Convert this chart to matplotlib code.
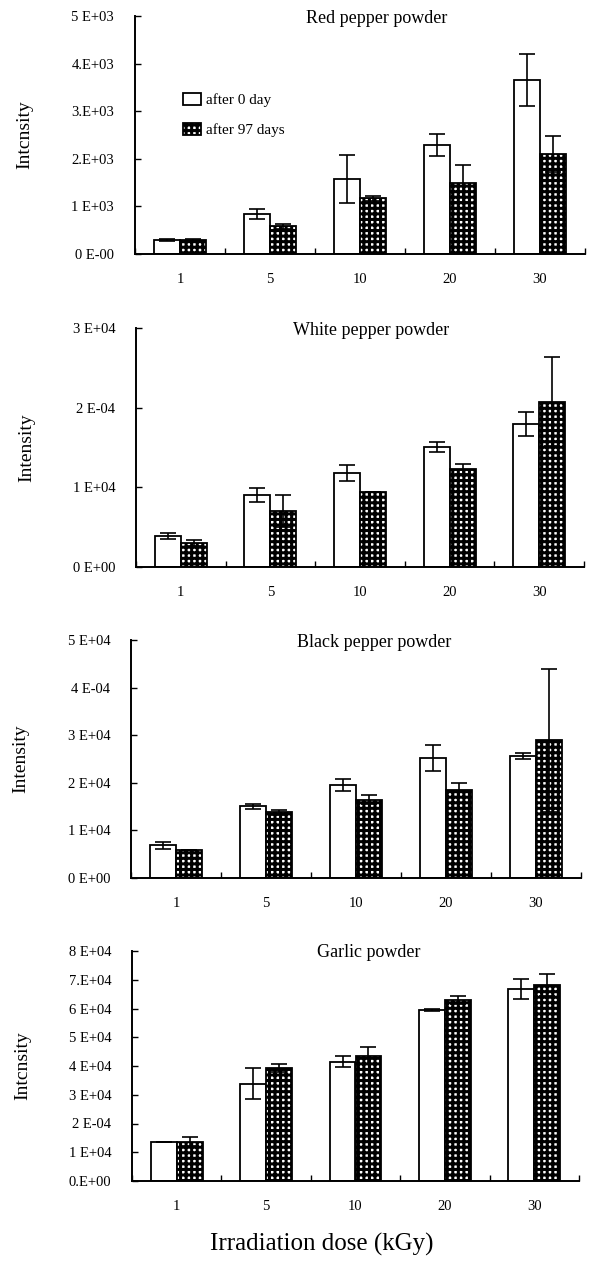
import matplotlib
matplotlib.use("Agg")
import matplotlib.pyplot as plt
import numpy as np
from matplotlib.patches import Patch

plt.rcParams['font.family'] = ['Liberation Serif', 'DejaVu Serif']
plt.rcParams['hatch.linewidth'] = 2.2

doses = ['1', '5', '10', '20', '30']
series_labels = ['after 0 day', 'after 97 days']

red_day0 = [290, 840, 1580, 2290, 3660]
red_day0_err = [20, 100, 500, 230, 550]
red_day97 = [300, 580, 1170, 1490, 2100]
red_day97_err = [20, 50, 55, 390, 380]

white_day0 = [3860, 9000, 11750, 15100, 17950]
white_day0_err = [400, 900, 1000, 630, 1500]
white_day97 = [3020, 7000, 9450, 12300, 20770]
white_day97_err = [350, 2000, 0, 600, 5600]

black_day0 = [6850, 15050, 19600, 25200, 25650]
black_day0_err = [700, 600, 1300, 2700, 700]
black_day97 = [5950, 13800, 16450, 18550, 28900]
black_day97_err = [0, 500, 1000, 1500, 15000]

garlic_day0 = [13470, 33850, 41500, 59500, 66650]
garlic_day0_err = [0, 5400, 1900, 500, 3450]
garlic_day97 = [13700, 39150, 43650, 62950, 68150]
garlic_day97_err = [1500, 1400, 2800, 1400, 3800]

red_ticks = [0, 1000, 2000, 3000, 4000, 5000]
red_ticklabels = ['0 E-00', '1 E+03', '2.E+03', '3.E+03', '4.E+03', '5 E+03']
white_ticks = [0, 10000, 20000, 30000]
white_ticklabels = ['0 E+00', '1 E+04', '2 E-04', '3 E+04']
black_ticks = [0, 10000, 20000, 30000, 40000, 50000]
black_ticklabels = ['0 E+00', '1 E+04', '2 E+04', '3 E+04', '4 E-04', '5 E+04']
garlic_ticks = [0, 10000, 20000, 30000, 40000, 50000, 60000, 70000, 80000]
garlic_ticklabels = ['0.E+00', '1 E+04', '2 E-04', '3 E+04', '4 E+04',
                     '5 E+04', '6 E+04', '7.E+04', '8 E+04']

titles = ['Red pepper powder', 'White pepper powder', 'Black pepper powder', 'Garlic powder']
ylabels = ['Intcnsity', 'Intensity', 'Intensity', 'Intcnsity']
xlabel = 'Irradiation dose (kGy)'

panels = [
    (red_day0, red_day0_err, red_day97, red_day97_err, red_ticks, red_ticklabels),
    (white_day0, white_day0_err, white_day97, white_day97_err, white_ticks, white_ticklabels),
    (black_day0, black_day0_err, black_day97, black_day97_err, black_ticks, black_ticklabels),
    (garlic_day0, garlic_day0_err, garlic_day97, garlic_day97_err, garlic_ticks, garlic_ticklabels),
]

W, H = 593, 1261
fig = plt.figure(figsize=(W / 100, H / 100), dpi=100)

# pixel boxes (left, top, right, bottom)
boxes = [(135, 16, 585, 254), (136, 328, 584, 567), (131, 640, 581, 878), (132, 951, 579, 1181)]
title_pos = [(0.536, 0.99), (0.525, 0.99), (0.54, 0.99), (0.53, 0.995)]

x = np.arange(len(doses))
bw = 0.29
for i, (d0, e0, d97, e97, ticks, tlabels) in enumerate(panels):
    l, t, r, b = boxes[i]
    ax = fig.add_axes([l / W, 1 - b / H, (r - l) / W, (b - t) / H])
    ax.bar(x - bw / 2, d0, bw, color='white', edgecolor='black', linewidth=1.3, zorder=2)
    ax.bar(x + bw / 2, d97, bw, color='white', edgecolor='black', linewidth=1.3,
           hatch='+++', zorder=2)
    ax.errorbar(x - bw / 2, d0, yerr=e0, fmt='none', ecolor='black', elinewidth=1.2,
                capsize=5.5, capthick=1.2, zorder=3)
    ax.errorbar(x + bw / 2, d97, yerr=e97, fmt='none', ecolor='black', elinewidth=1.2,
                capsize=5.5, capthick=1.2, zorder=3)
    ax.set_xlim(-0.5, len(doses) - 0.5)
    ax.set_ylim(0, ticks[-1])
    ax.set_yticks(ticks)
    ax.set_yticklabels(tlabels, fontsize=10.5)
    ax.set_xticks(x)
    ax.set_xticklabels(doses, fontsize=10.5)
    ax.set_xticks(np.arange(len(doses) + 1) - 0.5, minor=True)
    ax.tick_params(axis='x', which='major', length=0, pad=14)
    ax.tick_params(axis='x', which='minor', direction='in', length=4, width=1)
    ax.tick_params(axis='y', direction='in', length=4, width=1, pad=15)
    for s in ['top', 'right']:
        ax.spines[s].set_visible(False)
    for s in ['left', 'bottom']:
        ax.spines[s].set_linewidth(1.4)
    ax.set_ylabel(ylabels[i], fontsize=14)
    ax.yaxis.set_label_coords(-0.225, 0.5)
    tx, ty = title_pos[i]
    ax.text(tx, ty, titles[i], transform=ax.transAxes, ha='center', va='center', fontsize=13)
    if i == 0:
        handles = [Patch(facecolor='white', edgecolor='black', linewidth=1.3),
                   Patch(facecolor='white', edgecolor='black', linewidth=1.3, hatch='+++')]
        ax.legend(handles, series_labels, loc='upper left', bbox_to_anchor=(0.09, 0.71),
                  frameon=False, fontsize=11, handlelength=1.2, handleheight=0.9,
                  handletextpad=0.3, labelspacing=1.0, borderpad=0)

fig.text(322 / W, 1 - 1244 / H, xlabel, ha='center', va='center', fontsize=18)

fig.savefig('out.png', dpi=100)
